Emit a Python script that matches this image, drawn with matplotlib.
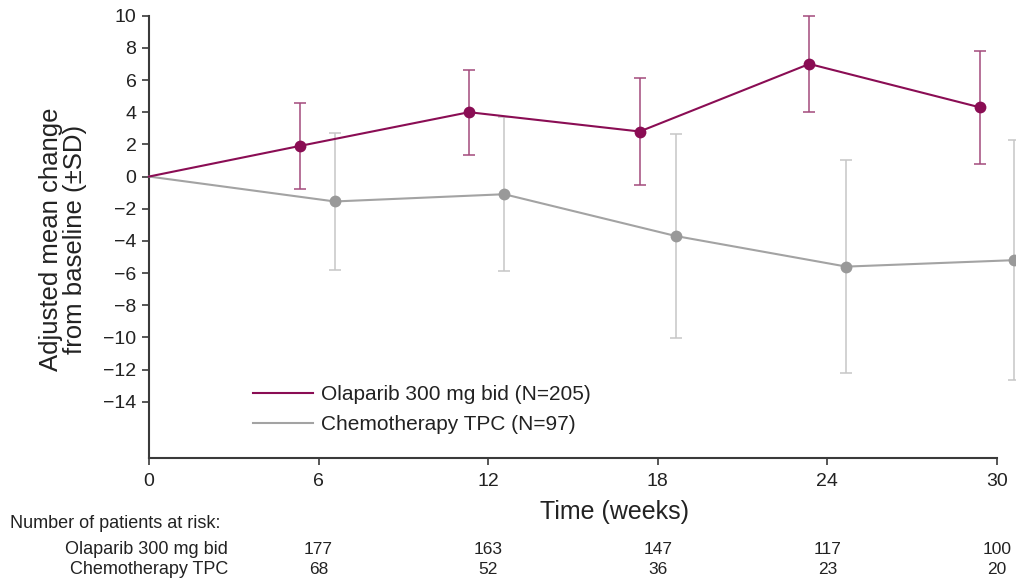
import matplotlib as mpl
mpl.use('Agg')
import matplotlib.pyplot as plt
from matplotlib.lines import Line2D
from matplotlib.transforms import blended_transform_factory
import numpy as np

plt.rcParams['font.family'] = ['Liberation Sans', 'DejaVu Sans']

# adjusted mean change from baseline, with SD
ola_weeks = [0, 5.33, 11.32, 17.36, 23.36, 29.4]
ola_mean = [0, 1.9, 4.0, 2.8, 7.0, 4.3]
ola_sd = [0, 2.65, 2.65, 3.3, 3.0, 3.5]

chemo_weeks = [0, 6.57, 12.57, 18.64, 24.67, 30.6]
chemo_mean = [0, -1.55, -1.1, -3.7, -5.6, -5.2]
chemo_sd = [0, 4.25, 4.8, 6.35, 6.6, 7.45]

risk_weeks = [6, 12, 18, 24, 30]
ola_at_risk = [177, 163, 147, 117, 100]
chemo_at_risk = [68, 52, 36, 23, 20]

ola_label = "Olaparib 300 mg bid (N=205)"
chemo_label = "Chemotherapy TPC (N=97)"

OLA = '#8a0d54'
OLA_ERR = '#a34a7c'
GREY = '#a3a3a3'
GREY_MK = '#999999'
GREY_ERR = '#c6c6c6'

W, H = 1016, 580
fig = plt.figure(figsize=(W / 100, H / 100), dpi=100)
ax = fig.add_axes([149 / W, 1 - 458 / H, (997 - 149) / W, (458 - 15.7) / H])


def series(x, m, sd, col, ecol, mcol):
    x = np.array(x)
    m = np.array(m)
    sd = np.array(sd)
    ax.plot(x, m, color=col, lw=1.5, clip_on=False, zorder=3)
    ax.errorbar(x[1:], m[1:], yerr=sd[1:], fmt='none', ecolor=ecol,
                elinewidth=1.1, capsize=4.5, capthick=1.1, clip_on=False, zorder=2)
    ax.plot(x[1:], m[1:], 'o', color=mcol, ms=8.5, mec='none', clip_on=False, zorder=4)


series(chemo_weeks, chemo_mean, chemo_sd, GREY, GREY_ERR, GREY_MK)
series(ola_weeks, ola_mean, ola_sd, OLA, OLA_ERR, OLA)

ax.set_xlim(0, 30)
ax.set_ylim(-17.5, 10)
ax.set_xticks(range(0, 31, 6))
ax.set_yticks(range(-14, 11, 2))
ax.set_yticklabels([str(v).replace('-', '\u2212') for v in range(-14, 11, 2)])
for s in ['top', 'right']:
    ax.spines[s].set_visible(False)
for s in ['left', 'bottom']:
    ax.spines[s].set_linewidth(1.5)
    ax.spines[s].set_color('#3a3a3a')
ax.tick_params(length=5, width=1.2, color='#3a3a3a', labelsize=14,
               labelcolor='#222222', pad=4)
ax.tick_params(axis='x', pad=6)

fig.text(63 / W, 1 - 239 / H, "Adjusted mean change\nfrom baseline (\u00b1SD)",
         rotation=90, ha='center', va='center', multialignment='center',
         fontsize=18.5, color='#222222', linespacing=1.0)
fig.text(614 / W, 1 - 512 / H, "Time (weeks)", ha='center', va='center',
         fontsize=18, color='#222222')

handles = [Line2D([], [], color=OLA, lw=1.5), Line2D([], [], color=GREY, lw=1.5)]
ax.legend(handles, [ola_label, chemo_label], loc='upper left',
          bbox_to_anchor=(253 / W, 1 - 385 / H), bbox_transform=fig.transFigure,
          frameon=False, fontsize=15, handlelength=2.9, handletextpad=0.35,
          labelspacing=0.52, borderpad=0, borderaxespad=0, labelcolor='#222222')

# patients at risk table
tr = blended_transform_factory(ax.transData, fig.transFigure)
fig.text(10 / W, 1 - 523 / H, "Number of patients at risk:", ha='left', va='center',
         fontsize=13, color='#222222')
fig.text(228 / W, 1 - 550 / H, "Olaparib 300 mg bid", ha='right', va='center',
         fontsize=13, color='#222222')
fig.text(228 / W, 1 - 570 / H, "Chemotherapy TPC", ha='right', va='center',
         fontsize=13, color='#222222')
for wk, a, b in zip(risk_weeks, ola_at_risk, chemo_at_risk):
    ax.text(wk, 1 - 550 / H, str(a), transform=tr, ha='center', va='center',
            fontsize=12.5, color='#222222')
    ax.text(wk, 1 - 570 / H, str(b), transform=tr, ha='center', va='center',
            fontsize=12.5, color='#222222')

fig.savefig('out.png', dpi=100)
